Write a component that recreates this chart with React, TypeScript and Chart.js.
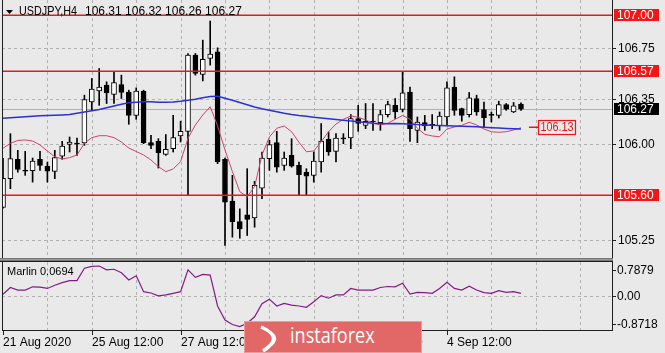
import React, { useEffect, useRef } from 'react';
import { Chart, registerables } from 'chart.js';

Chart.register(...registerables);

// ---------------- data ----------------
const symbolTitle = 'USDJPY,H4';
const headerValues = ['106.31', '106.32', '106.26', '106.27'];

const opens = [105.504, 105.728, 105.879, 105.788, 105.790, 105.879, 105.826, 105.785, 105.904, 105.996,
  105.998, 106.006, 106.326, 106.412, 106.457, 106.384, 106.462, 106.404, 106.222, 106.408,
  106.009, 106.019, 105.918, 105.962, 106.061, 106.097, 106.691, 106.540, 106.665, 106.717,
  105.879, 105.553, 105.394, 105.447, 105.423, 105.654, 105.884, 106.009, 105.832, 105.910,
  105.832, 105.779, 105.754, 105.858, 106.035, 105.941, 106.038, 106.045, 106.197, 106.144,
  106.178, 106.165, 106.228, 106.300, 106.267, 106.404, 106.105, 106.165, 106.144, 106.139,
  106.209, 106.443, 106.275, 106.228, 106.353, 106.267, 106.222, 106.222, 106.306, 106.248,
  106.31];
const highs = [105.886, 106.079, 105.949, 105.941, 105.889, 105.941, 105.858, 105.949, 106.019, 106.053,
  106.045, 106.379, 106.509, 106.587, 106.483, 106.561, 106.535, 106.418, 106.436, 106.418,
  106.066, 106.040, 106.072, 106.222, 106.176, 106.704, 106.704, 106.808, 106.957, 106.748,
  105.888, 105.754, 105.493, 105.806, 105.707, 105.936, 106.027, 106.097, 105.936, 106.040,
  105.858, 105.806, 105.936, 106.158, 106.092, 106.079, 106.079, 106.228, 106.300, 106.314,
  106.314, 106.261, 106.332, 106.353, 106.561, 106.443, 106.209, 106.222, 106.228, 106.248,
  106.483, 106.522, 106.278, 106.400, 106.379, 106.326, 106.248, 106.332, 106.314, 106.322,
  106.32];
const lows = [105.498, 105.650, 105.779, 105.754, 105.701, 105.793, 105.701, 105.728, 105.879, 105.936,
  105.910, 105.988, 106.261, 106.300, 106.314, 106.314, 106.353, 106.152, 106.191, 106.001,
  105.962, 105.811, 105.910, 105.936, 106.014, 105.597, 106.535, 106.490, 106.613, 105.845,
  105.207, 105.272, 105.264, 105.285, 105.350, 105.572, 105.793, 105.779, 105.793, 105.818,
  105.597, 105.597, 105.701, 105.779, 105.910, 105.858, 106.001, 105.962, 106.097, 106.118,
  106.105, 106.105, 106.209, 106.197, 106.248, 106.019, 106.009, 106.105, 106.118, 106.105,
  106.144, 106.222, 106.176, 106.209, 106.222, 106.131, 106.170, 106.201, 106.261, 106.243,
  106.26];
const closes = [105.730, 105.884, 105.801, 105.787, 105.865, 105.832, 105.787, 105.892, 105.983, 106.014,
  105.997, 106.345, 106.426, 106.443, 106.397, 106.478, 106.400, 106.222, 106.410, 106.009,
  105.988, 105.931, 105.957, 106.048, 106.097, 106.691, 106.548, 106.658, 106.699, 105.858,
  105.545, 105.394, 105.337, 105.410, 105.676, 105.889, 105.993, 105.818, 105.889, 105.826,
  105.759, 105.748, 105.865, 106.022, 105.936, 106.045, 106.040, 106.197, 106.158, 106.176,
  106.170, 106.228, 106.306, 106.248, 106.397, 106.118, 106.170, 106.139, 106.146, 106.217,
  106.436, 106.261, 106.222, 106.358, 106.248, 106.201, 106.224, 106.306, 106.269, 106.295,
  106.27];

// slow moving average (blue)
const maSlow = [106.199, 106.203, 106.207, 106.211, 106.215, 106.218, 106.220, 106.222, 106.225, 106.228,
  106.238, 106.248, 106.258, 106.267, 106.281, 106.295, 106.308, 106.320, 106.324, 106.328,
  106.328, 106.324, 106.324, 106.326, 106.332, 106.340, 106.347, 106.359, 106.368, 106.371,
  106.355, 106.340, 106.322, 106.304, 106.287, 106.273, 106.261, 106.250, 106.238, 106.228,
  106.220, 106.215, 106.207, 106.201, 106.195, 106.189, 106.183, 106.177, 106.172, 106.166,
  106.161, 106.158, 106.156, 106.158, 106.156, 106.152, 106.150, 106.147, 106.144, 106.143,
  106.140, 106.138, 106.136, 106.134, 106.132, 106.129, 106.126, 106.123, 106.120, 106.118,
  106.115];
// fast moving average (red)
const maFast = [105.965, 106.004, 106.026, 106.030, 106.022, 105.991, 105.944, 105.899, 105.882, 105.892,
  105.913, 106.004, 106.048, 106.063, 106.063, 106.048, 106.014, 105.967, 105.940, 105.913,
  105.874, 105.822, 105.783, 105.804, 105.861, 106.043, 106.147, 106.225, 106.289, 106.139,
  105.952, 105.783, 105.627, 105.588, 105.666, 105.913, 106.053, 106.121, 106.139, 106.094,
  106.012, 105.938, 105.944, 106.016, 106.094, 106.154, 106.191, 106.217, 106.207, 106.186,
  106.160, 106.147, 106.160, 106.191, 106.221, 106.193, 106.121, 106.074, 106.061, 106.055,
  106.115, 106.131, 106.144, 106.168, 106.147, 106.115, 106.094, 106.090, 106.094, 106.108,
  106.125];
// Marlin oscillator
const marlin = [0.04, 0.25, 0.17, 0.17, 0.27, 0.26, 0.22, 0.32, 0.40, 0.46,
  0.46, 0.84, 0.90, 0.91, 0.79, 0.81, 0.70, 0.48, 0.61, 0.12,
  0.08, -0.01, 0.02, 0.07, 0.12, 0.79, 0.56, 0.65, 0.63, -0.32,
  -0.75, -0.89, -0.95, -0.85, -0.65, -0.25, -0.11, -0.32, -0.24, -0.29,
  -0.32, -0.36, -0.19, 0.00, -0.08, 0.02, 0.02, 0.22, 0.17, 0.17,
  0.17, 0.25, 0.28, 0.27, 0.38, 0.05, 0.10, 0.09, 0.07, 0.22,
  0.41, 0.22, 0.17, 0.29, 0.17, 0.09, 0.07, 0.15, 0.10, 0.12,
  0.0694];

const levelValues = [107.0, 106.57, 105.6];
const levelLabels = ['107.00', '106.57', '105.60'];
const priceTicks = [106.75, 106.35, 106.0, 105.25];
const priceTickLabels = ['106.75', '106.35', '106.00', '105.25'];
const bidPrice = 106.27;
const bidLabel = '106.27';
const maLabelValue = 106.13;
const maLabelText = '106.13';
const oscTicks = [0.7879, 0, -0.8718];
const oscTickLabels = ['0.7879', '0.00', '-0.8718'];
const oscName = 'Marlin 0.0694';
const gridIndices = [6, 12, 18, 24, 30, 36, 42, 48, 54, 60, 66, 72, 78];
const timeLabelIndices = [0, 12, 24, 36, 48, 60];
const timeLabels = ['21 Aug 2020', '25 Aug 12:00', '27 Aug 12:00', '31 Aug 12:00', '2 Sep 12:00', '4 Sep 12:00'];

// ---------------- config ----------------
const X_MIN = -0.135, X_MAX = 82.3;
const P_MIN = 105.1099, P_MAX = 107.1208;
const O_MIN = -1.0572, O_MAX = 1.0326;

const BG = '#e9e9e9';
const FONT = '12px "Liberation Sans", Arial, sans-serif';
const FONT_S = '11px "Liberation Sans", Arial, sans-serif';
const GRID = '#b2b2b2';
const FRAME = '#1e1e1e';
const LEVEL = 'rgb(236,22,22)';
const LEVEL_BOX = '#f41616';

function hline(ctx: CanvasRenderingContext2D, x1: number, x2: number, y: number) {
  ctx.beginPath(); ctx.moveTo(x1, y); ctx.lineTo(x2, y); ctx.stroke();
}
function vline(ctx: CanvasRenderingContext2D, x: number, y1: number, y2: number) {
  ctx.beginPath(); ctx.moveTo(x, y1); ctx.lineTo(x, y2); ctx.stroke();
}

const mainOverlay = {
  id: 'mainOverlay',
  beforeDatasetsDraw(chart: any) {
    const { ctx, chartArea: a, scales } = chart;
    const xs = scales.x, ys = scales.y;
    ctx.save();
    ctx.lineWidth = 1;
    ctx.strokeStyle = GRID;
    ctx.setLineDash([3, 3]);
    gridIndices.forEach((i) => {
      const px = Math.round(xs.getPixelForValue(i)) + 0.5;
      if (px < a.left || px > a.right) return;
      vline(ctx, px, a.top, a.bottom);
    });
    priceTicks.forEach((v) => {
      const py = Math.round(ys.getPixelForValue(v)) + 0.5;
      hline(ctx, a.left, a.right, py);
    });
    ctx.setLineDash([]);
    ctx.fillStyle = '#b0b0b0';
    ctx.fillRect(a.left, Math.round(ys.getPixelForValue(bidPrice)), a.right - a.left, 1);
    ctx.restore();
  },
  afterDatasetsDraw(chart: any) {
    const { ctx, chartArea: a, scales } = chart;
    const xs = scales.x, ys = scales.y;
    ctx.save();
    ctx.setLineDash([]);
    // horizontal levels
    ctx.strokeStyle = LEVEL;
    ctx.lineWidth = 1.5;
    levelValues.forEach((v) => {
      hline(ctx, a.left, a.right, Math.round(ys.getPixelForValue(v)) + 0.25);
    });
    // MA value label
    const lastPx = xs.getPixelForValue(closes.length - 1);
    const myr = Math.round(ys.getPixelForValue(maLabelValue));
    const bx = Math.round(lastPx + 17);
    hline(ctx, Math.round(lastPx + 8), bx, myr + 0.25);
    ctx.lineWidth = 1.2;
    ctx.strokeRect(bx + 0.5, myr - 6.5, 37, 14);
    ctx.fillStyle = LEVEL;
    ctx.font = FONT;
    ctx.textBaseline = 'middle';
    ctx.textAlign = 'left';
    ctx.fillText(maLabelText, bx + 2.5, myr + 1, 33);
    // frame
    ctx.lineWidth = 1;
    ctx.strokeStyle = FRAME;
    vline(ctx, a.left + 0.5, 0, a.bottom);
    vline(ctx, a.right + 0.5, 0, a.bottom);
    // right axis labels
    ctx.fillStyle = '#000';
    priceTicks.forEach((v, k) => {
      const py = Math.round(ys.getPixelForValue(v));
      hline(ctx, a.right, a.right + 4, py + 0.5);
      ctx.fillText(priceTickLabels[k], 618, py + 0.5);
    });
    levelValues.forEach((v, k) => {
      const py = Math.round(ys.getPixelForValue(v));
      ctx.fillStyle = LEVEL_BOX;
      ctx.fillRect(614, py - 6, 45, 12);
      ctx.fillStyle = '#fff';
      ctx.fillText(levelLabels[k], 617, py + 0.5);
    });
    {
      const py = Math.round(ys.getPixelForValue(bidPrice));
      ctx.fillStyle = '#000';
      ctx.fillRect(614, py - 6, 45, 12);
      ctx.fillStyle = '#fff';
      ctx.fillText(bidLabel, 617, py + 0.5);
    }
    // title
    ctx.fillStyle = '#000';
    ctx.beginPath();
    ctx.moveTo(6, 10); ctx.lineTo(13, 10); ctx.lineTo(9.5, 14); ctx.closePath(); ctx.fill();
    ctx.font = FONT;
    ctx.fillText(symbolTitle, 19, 12, 58);
    let tx = 85;
    headerValues.forEach((v) => {
      ctx.fillText(v, tx, 12);
      tx += ctx.measureText(v + ' ').width;
    });
    ctx.restore();
  },
};

const subOverlay = {
  id: 'subOverlay',
  beforeDatasetsDraw(chart: any) {
    const { ctx, chartArea: a, scales } = chart;
    const xs = scales.x, ys = scales.y;
    ctx.save();
    ctx.lineWidth = 1;
    ctx.strokeStyle = GRID;
    ctx.setLineDash([3, 3]);
    gridIndices.forEach((i) => {
      const px = Math.round(xs.getPixelForValue(i)) + 0.5;
      if (px < a.left || px > a.right) return;
      vline(ctx, px, a.top, a.bottom);
    });
    hline(ctx, a.left, a.right, Math.round(ys.getPixelForValue(0)) + 0.5);
    ctx.restore();
  },
  afterDatasetsDraw(chart: any) {
    const { ctx, chartArea: a, scales } = chart;
    const xs = scales.x, ys = scales.y;
    ctx.save();
    ctx.setLineDash([]);
    ctx.lineWidth = 1;
    // separator band
    ctx.fillStyle = '#777777';
    ctx.fillRect(0, 0, a.right + 1, 3);
    ctx.fillStyle = '#9a9a9a';
    ctx.fillRect(0, 1, a.right + 1, 1);
    ctx.strokeStyle = FRAME;
    hline(ctx, 0, a.right + 1, 3.5);
    vline(ctx, a.left + 0.5, 3, a.bottom + 1);
    vline(ctx, a.right + 0.5, 3, a.bottom + 1);
    hline(ctx, a.left, a.right + 1, a.bottom + 0.5);
    // right labels
    ctx.font = FONT;
    ctx.textBaseline = 'middle';
    ctx.textAlign = 'left';
    ctx.fillStyle = '#000';
    oscTicks.forEach((v, k) => {
      const py = Math.round(ys.getPixelForValue(v));
      hline(ctx, a.right, a.right + 4, py + 0.5);
      ctx.fillText(oscTickLabels[k], 617, py + 0.5);
    });
    // indicator name
    ctx.font = FONT_S;
    ctx.fillText(oscName, 7, a.top + 10);
    // time labels
    ctx.font = FONT;
    timeLabelIndices.forEach((i, k) => {
      const px = Math.round(xs.getPixelForValue(i));
      vline(ctx, px + 0.5, a.bottom + 1, a.bottom + 5);
      ctx.fillText(timeLabels[k], px, a.bottom + 12.5);
    });
    ctx.restore();
  },
};

function MainChart() {
  const ref = useRef<HTMLCanvasElement>(null);
  useEffect(() => {
    const idx = closes.map((_, i) => i);
    const bodyColors = closes.map((c, i) => (c - opens[i] > 0.003 ? '#ffffff' : '#000000'));
    const chart = new Chart(ref.current as HTMLCanvasElement, {
      type: 'bar',
      data: {
        datasets: [
          {
            type: 'line',
            data: idx.map((i) => ({ x: i, y: maSlow[i] })),
            borderColor: '#2b2fd4',
            borderWidth: 1.5,
            pointRadius: 0,
            tension: 0,
          } as any,
          {
            type: 'line',
            data: idx.map((i) => ({ x: i, y: maFast[i] })),
            borderColor: '#cc4468',
            borderWidth: 1,
            pointRadius: 0,
            tension: 0,
          } as any,
          {
            type: 'bar',
            data: idx.map((i) => ({ x: i, y: [opens[i], closes[i]] })),
            backgroundColor: bodyColors,
            borderColor: '#000000',
            borderWidth: 1,
            borderSkipped: false,
            barThickness: 5,
            grouped: false,
            minBarLength: 1,
          } as any,
          {
            type: 'bar',
            data: idx.map((i) => ({ x: i, y: [lows[i], highs[i]] })),
            backgroundColor: '#000000',
            borderWidth: 0,
            barThickness: 1,
            grouped: false,
          } as any,
        ],
      },
      options: {
        responsive: false,
        animation: false,
        devicePixelRatio: 1,
        events: [],
        layout: { padding: { left: 2, right: 53, top: 0, bottom: 0 } },
        plugins: { legend: { display: false }, tooltip: { enabled: false } },
        scales: {
          x: { type: 'linear', display: false, offset: false, min: X_MIN, max: X_MAX },
          y: { type: 'linear', display: false, min: P_MIN, max: P_MAX },
        },
      } as any,
      plugins: [mainOverlay],
    });
    return () => chart.destroy();
  }, []);
  return <canvas ref={ref} width={665} height={258} style={{ position: 'absolute', left: 0, top: 0 }} />;
}

function SubChart() {
  const ref = useRef<HTMLCanvasElement>(null);
  useEffect(() => {
    const chart = new Chart(ref.current as HTMLCanvasElement, {
      type: 'line',
      data: {
        datasets: [
          {
            data: marlin.map((v, i) => ({ x: i, y: v })),
            borderColor: '#861a86',
            borderWidth: 1.2,
            pointRadius: 0,
            tension: 0,
          },
        ],
      },
      options: {
        responsive: false,
        animation: false,
        devicePixelRatio: 1,
        events: [],
        layout: { padding: { left: 2, right: 53, top: 4, bottom: 23 } },
        plugins: { legend: { display: false }, tooltip: { enabled: false } },
        scales: {
          x: { type: 'linear', display: false, offset: false, min: X_MIN, max: X_MAX },
          y: { type: 'linear', display: false, min: O_MIN, max: O_MAX },
        },
      } as any,
      plugins: [subOverlay],
    });
    return () => chart.destroy();
  }, []);
  return <canvas ref={ref} width={665} height={95} style={{ position: 'absolute', left: 0, top: 258 }} />;
}

function Logo() {
  return (
    <div
      style={{
        position: 'absolute', left: 244, top: 321, width: 178, height: 32,
        background: '#e26767', boxSizing: 'border-box', border: '1px solid #ee9a9a', overflow: 'hidden',
      }}
    >
      <svg width="40" height="32" style={{ position: 'absolute', left: 10, top: 0 }}>
        <path d="M6 5 Q 30 15 8 29" stroke="#ffffff" strokeWidth="3.5" fill="none" />
        <path d="M14 9 Q 26 16 15 24" stroke="#ffffff" strokeWidth="2" fill="none" />
      </svg>
      <span
        style={{
          position: 'absolute', left: 45, top: 0, fontSize: 21, lineHeight: '27px', color: '#ffffff',
          fontFamily: '"Open Sans", sans-serif', transform: 'scaleX(0.86)', transformOrigin: 'left center',
          whiteSpace: 'nowrap',
        }}
      >
        instaforex
      </span>
    </div>
  );
}

export default function App() {
  return (
    <div style={{ position: 'absolute', left: 0, top: 0, width: 665, height: 353, background: BG, overflow: 'hidden' }}>
      <MainChart />
      <SubChart />
      <Logo />
    </div>
  );
}
